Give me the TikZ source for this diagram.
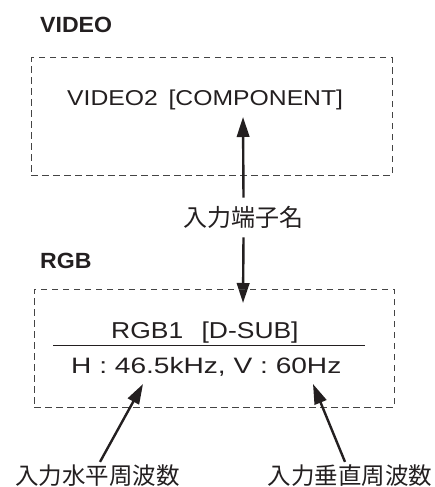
\documentclass[tikz,border=0pt]{standalone}
\usepackage{fontspec}
\usetikzlibrary{arrows.meta,calc}
\newfontfamily\lat{Liberation Sans}[FakeStretch=1.15]
\newfontfamily\latw{Liberation Sans}[FakeStretch=1.26]
\newfontfamily\latb{Liberation Sans Bold}[FakeStretch=1.05]
\newfontfamily\jp{Noto Sans CJK JP}
\definecolor{ink}{HTML}{231F20}
\definecolor{dash}{HTML}{444444}
\begin{document}
\begin{tikzpicture}[x=1pt,y=-1pt,
  every node/.style={inner sep=0pt,text=ink},
  dbox/.style={draw=dash,line width=1pt,dash pattern=on 6.5pt off 4.5pt},
  head/.style={font=\latb\fontsize{22}{26}\selectfont,anchor=base west},
  latxt/.style={font=\lat\fontsize{21.5}{25}\selectfont,anchor=base west},
  jtxt/.style={font=\jp\fontsize{23.5}{28}\selectfont},
  arr/.style={draw=ink,line width=2.4pt,-{Triangle[length=20pt,width=12.5pt]}}]
\useasboundingbox (0,0) rectangle (435,487);
% VIDEO section
\node[head] (hv) at (40,32.7) {VIDEO};
\node[dbox,minimum width=361pt,minimum height=117pt] (bv) at (211.5,116.5) {};
\node[latxt] (tv) at (67,105) {VIDEO2\hspace{0.5em}[COMPONENT]};
% center label
\node[jtxt,inner ysep=8.5pt,font=\jp\fontsize{24}{28}\selectfont] (lt) at (243.5,217.5) {入力端子名};
\coordinate (tipA) at (243,117);
\coordinate (tipB) at (243,303);
\draw[arr] (lt.north) -- (tipA);
\draw[arr] (lt.south) -- (tipB);
% RGB section
\node[head] (hr) at (40,268.3) {RGB};
\node[dbox,minimum width=360pt,minimum height=118pt] (br) at (214,348) {};
\node[latxt,font=\lat\fontsize{23}{26}\selectfont] (tr) at (111,338) {RGB1\hspace{0.8em}[D-SUB]};
\coordinate (sepL) at (53,345);
\coordinate (sepR) at (365,345);
\draw[draw=ink,line width=1pt] (sepL) -- (sepR);
\node[latxt,font=\latw\fontsize{22.3}{26}\selectfont] (th) at (71,373) {H : 46.5kHz, V : 60Hz};
% bottom labels
\node[jtxt,inner ysep=3pt] (lh) at (97.5,476) {入力水平周波数};
\node[jtxt,inner ysep=3pt] (lv) at (350,476) {入力垂直周波数};
\coordinate (tipH) at (143,384);
\coordinate (tipV) at (313,384);
\draw[arr] ($(lh.north)+(2.5,0)$) -- (tipH);
\draw[arr] ($(lv.north)+(-5,0)$) -- (tipV);
\end{tikzpicture}
\end{document}
